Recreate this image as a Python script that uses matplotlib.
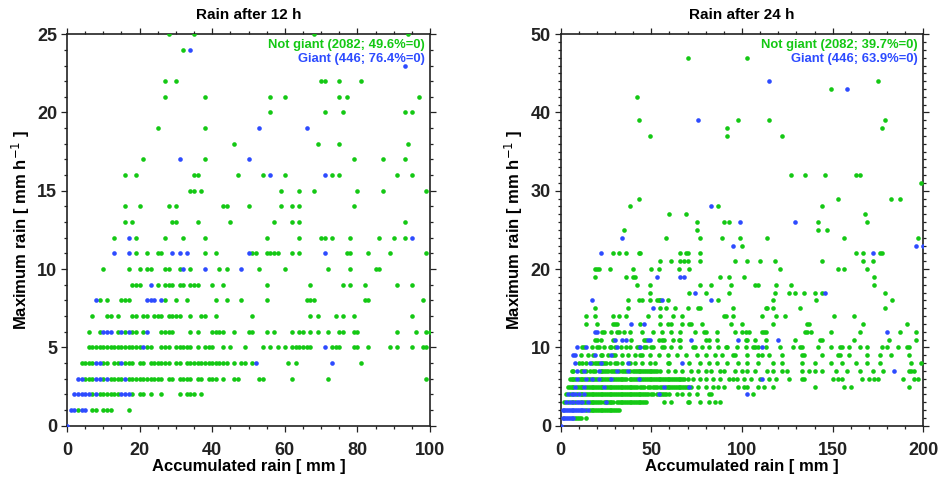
import matplotlib
matplotlib.use("Agg")
import matplotlib.pyplot as plt
from matplotlib.ticker import MultipleLocator

plt.rcParams['font.family'] = ['Liberation Sans', 'DejaVu Sans']
plt.rcParams['mathtext.fontset'] = 'custom'
plt.rcParams['mathtext.rm'] = 'Liberation Sans:bold'
plt.rcParams['mathtext.bf'] = 'Liberation Sans:bold'
plt.rcParams['mathtext.default'] = 'bf'

GREEN = '#14c814'
BLUE = '#2d4bff'

titles = ["Rain after 12 h", "Rain after 24 h"]
xlabel = "Accumulated rain [ mm ]"
ylabel = "Maximum rain [ mm h$^{\\mathsf{-1}}$ ]"
legend_12 = ["Not giant (2082; 49.6%=0)", "Giant (446; 76.4%=0)"]
legend_24 = ["Not giant (2082; 39.7%=0)", "Giant (446; 63.9%=0)"]

# ---------------- 12 h panel : (accumulated rain, max rain) ----------------
pts12_not = [
    (28, 25), (35, 25), (68, 25), (94, 25),
    (32, 24),
    (27, 22), (30, 22), (70, 22), (71, 22), (75, 22), (81, 22),
    (27, 21), (38, 21), (56, 21), (60, 21), (75, 21), (77, 21), (97, 21),
    (56, 20), (71, 20), (76, 20), (93, 20), (95, 20),
    (25, 19), (38, 19),
    (46, 18), (69, 18), (75, 18), (94, 18),
    (21, 17), (38, 17), (79, 17), (87, 17), (93, 17),
    (16, 16), (19, 16), (35, 16), (36, 16), (47, 16), (54, 16), (60, 16), (73, 16), (75, 16), (91, 16), (95, 16),
    (34, 15), (35, 15), (37, 15), (59, 15), (64, 15), (68, 15), (80, 15), (87, 15), (99, 15),
    (16, 14), (20, 14), (28, 14), (30, 14), (43, 14), (44, 14), (50, 14), (59, 14), (62, 14), (64, 14), (79, 14),
    (16, 13), (18, 13), (29, 13), (30, 13), (36, 13), (45, 13), (57, 13), (62, 13), (64, 13), (93, 13),
    (13, 12), (19, 12), (27, 12), (32, 12), (38, 12), (55, 12), (64, 12), (70, 12), (71, 12), (73, 12), (78, 12), (86, 12), (90, 12), (93, 12),
    (19, 11), (22, 11), (25, 11), (26, 11), (38, 11), (41, 11), (51, 11), (52, 11), (55, 11), (56, 11), (57, 11), (58, 11),
    (62, 11), (64, 11), (77, 11), (78, 11), (83, 11), (89, 11), (99, 11),
    (10, 10), (17, 10), (20, 10), (22, 10), (23, 10), (27, 10), (28, 10), (31, 10), (34, 10), (42, 10), (44, 10), (53, 10),
    (60, 10), (72, 10), (78, 10), (85, 10), (86, 10),
    (18, 9), (19, 9), (20, 9), (25, 9), (27, 9), (28, 9), (29, 9), (31, 9), (32, 9), (34, 9), (35, 9), (36, 9), (40, 9),
    (43, 9), (55, 9), (67, 9), (76, 9), (78, 9), (82, 9), (91, 9), (95, 9),
    (9, 8), (11, 8), (15, 8), (16, 8), (17, 8), (27, 8), (30, 8), (33, 8), (41, 8), (44, 8), (48, 8), (55, 8), (66, 8),
    (67, 8), (68, 8), (82, 8), (83, 8), (98, 8),
    (7, 7), (11, 7), (12, 7), (14, 7), (18, 7), (19, 7), (21, 7), (22, 7), (24, 7), (25, 7), (26, 7), (28, 7), (29, 7),
    (30, 7), (31, 7), (34, 7), (37, 7), (38, 7), (41, 7), (51, 7), (67, 7), (69, 7), (74, 7), (76, 7), (79, 7), (95, 7),
    (6, 6), (9, 6), (14, 6), (16, 6), (18, 6), (19, 6), (21, 6), (26, 6), (27, 6), (28, 6), (29, 6), (34, 6), (36, 6),
    (40, 6), (41, 6), (42, 6), (43, 6), (46, 6), (50, 6), (51, 6), (55, 6), (57, 6), (62, 6), (64, 6), (65, 6), (67, 6),
    (69, 6), (72, 6), (75, 6), (76, 6), (79, 6), (80, 6), (91, 6), (96, 6), (99, 6), (100, 6),
    (6, 5), (7, 5), (8, 5), (9, 5), (10, 5), (11, 5), (12, 5), (13, 5), (14, 5), (15, 5), (16, 5), (17, 5), (18, 5),
    (19, 5), (20, 5), (22, 5), (23, 5), (26, 5), (27, 5), (28, 5), (30, 5), (31, 5), (32, 5), (33, 5), (34, 5), (36, 5),
    (38, 5), (39, 5), (40, 5), (43, 5), (45, 5), (49, 5), (54, 5), (56, 5), (58, 5), (60, 5), (62, 5), (63, 5), (64, 5),
    (65, 5), (66, 5), (67, 5), (73, 5), (74, 5), (75, 5), (79, 5), (80, 5), (83, 5), (89, 5), (91, 5), (95, 5), (98, 5), (99, 5),
    (4, 4), (5, 4), (6, 4), (7, 4), (10, 4), (11, 4), (13, 4), (14, 4), (16, 4), (17, 4), (18, 4), (20, 4), (21, 4),
    (23, 4), (24, 4), (25, 4), (26, 4), (27, 4), (28, 4), (30, 4), (31, 4), (33, 4), (34, 4), (35, 4), (36, 4), (37, 4),
    (38, 4), (39, 4), (40, 4), (41, 4), (42, 4), (43, 4), (44, 4), (46, 4), (48, 4), (49, 4), (51, 4), (61, 4), (63, 4), (81, 4),
    (5, 3), (6, 3), (7, 3), (10, 3), (12, 3), (13, 3), (14, 3), (15, 3), (17, 3), (18, 3), (19, 3), (20, 3), (21, 3),
    (22, 3), (23, 3), (24, 3), (25, 3), (26, 3), (28, 3), (29, 3), (31, 3), (32, 3), (33, 3), (34, 3), (36, 3), (37, 3),
    (39, 3), (40, 3), (41, 3), (43, 3), (46, 3), (47, 3), (53, 3), (54, 3), (62, 3), (72, 3), (99, 3),
    (7, 2), (9, 2), (10, 2), (11, 2), (12, 2), (13, 2), (14, 2), (18, 2), (20, 2), (21, 2), (23, 2), (26, 2), (31, 2),
    (33, 2), (34, 2), (35, 2), (37, 2),
    (3, 1), (7, 1), (8, 1), (10, 1), (11, 1), (12, 1), (17, 1),
]
pts12_giant = [
    (34, 24), (93, 23), (53, 19), (66, 19), (31, 17), (50, 17), (56, 16), (71, 16),
    (17, 12), (95, 12),
    (13, 11), (17, 11), (29, 11), (31, 11), (33, 11), (50, 11), (71, 11),
    (32, 10), (38, 10), (48, 10), (23, 9),
    (8, 8), (22, 8), (23, 8), (24, 8), (26, 8),
    (10, 6), (11, 6), (12, 6), (15, 6), (17, 6), (22, 6),
    (21, 5), (71, 5),
    (8, 4), (9, 4), (15, 4), (52, 4), (73, 4),
    (3, 3), (4, 3), (8, 3), (9, 3), (11, 3), (16, 3),
    (2, 2), (3, 2), (4, 2), (5, 2), (6, 2), (8, 2), (15, 2), (16, 2), (17, 2),
    (1, 1), (2, 1), (4, 1), (5, 1),
    (0, 0),
]

# ---------------- 24 h panel ----------------
pts24_not = [
    (70, 47), (103, 47), (175, 44), (149, 43), (42, 42),
    (43, 39), (98, 39), (115, 39), (179, 39), (92, 38), (177, 38), (49, 37), (92, 37), (122, 37),
    (127, 32), (135, 32), (146, 32), (163, 32), (165, 32), (199, 31),
    (43, 29), (153, 29), (182, 29), (187, 29), (38, 28), (87, 28), (144, 28), (60, 27), (69, 27), (168, 27),
    (75, 26), (90, 26), (93, 26), (142, 26), (169, 26), (35, 25), (75, 25), (142, 25), (147, 25),
    (58, 24), (77, 24), (89, 24), (99, 24), (114, 24), (156, 24), (197, 24), (100, 23),
    (29, 22), (32, 22), (36, 22), (43, 22), (44, 22), (66, 22), (69, 22), (70, 22), (77, 22), (163, 22), (167, 22), (176, 22), (177, 22),
    (55, 21), (61, 21), (66, 21), (68, 21), (70, 21), (77, 21), (96, 21), (103, 21), (110, 21), (118, 21), (144, 21), (167, 21), (172, 21),
    (19, 20), (20, 20), (21, 20), (27, 20), (40, 20), (50, 20), (54, 20), (65, 20), (71, 20), (121, 20), (153, 20), (156, 20), (169, 20),
    (19, 19), (36, 19), (40, 19), (41, 19), (88, 19), (93, 19), (101, 19), (173, 19),
    (42, 18), (49, 18), (77, 18), (83, 18), (94, 18), (107, 18), (109, 18), (119, 18), (127, 18), (173, 18),
    (49, 17), (71, 17), (80, 17), (93, 17), (118, 17), (126, 17), (129, 17), (134, 17), (140, 17), (144, 17), (179, 17),
    (37, 16), (43, 16), (45, 16), (49, 16), (53, 16), (54, 16), (55, 16), (59, 16), (87, 16), (117, 16), (141, 16), (183, 16),
    (19, 15), (37, 15), (55, 15), (58, 15), (63, 15), (70, 15), (76, 15), (77, 15), (95, 15), (113, 15), (114, 15), (117, 15), (132, 15), (179, 15),
    (14, 14), (19, 14), (29, 14), (32, 14), (36, 14), (48, 14), (55, 14), (62, 14), (67, 14), (90, 14), (91, 14), (95, 14), (111, 14),
    (119, 14), (124, 14), (151, 14), (162, 14),
    (14, 13), (20, 13), (29, 13), (30, 13), (31, 13), (44, 13), (55, 13), (59, 13), (61, 13), (67, 13), (71, 13), (72, 13), (78, 13),
    (94, 13), (100, 13), (117, 13), (136, 13), (137, 13), (167, 13), (191, 13),
    (23, 12), (24, 12), (28, 12), (31, 12), (32, 12), (35, 12), (38, 12), (45, 12), (51, 12), (56, 12), (61, 12), (66, 12), (74, 12),
    (79, 12), (80, 12), (86, 12), (96, 12), (100, 12), (102, 12), (104, 12), (111, 12), (112, 12), (113, 12), (135, 12), (136, 12),
    (138, 12), (149, 12), (165, 12), (187, 12), (196, 12),
    (19, 11), (20, 11), (22, 11), (29, 11), (39, 11), (46, 11), (47, 11), (54, 11), (56, 11), (57, 11), (62, 11), (65, 11), (66, 11),
    (80, 11), (82, 11), (86, 11), (102, 11), (103, 11), (107, 11), (113, 11), (129, 11), (143, 11), (144, 11), (162, 11), (181, 11), (196, 11),
    (12, 10), (13, 10), (17, 10), (20, 10), (21, 10), (24, 10), (27, 10), (28, 10), (30, 10), (33, 10), (36, 10), (38, 10), (42, 10),
    (43, 10), (46, 10), (47, 10), (50, 10), (51, 10), (56, 10), (57, 10), (61, 10), (66, 10), (73, 10), (74, 10), (78, 10), (82, 10),
    (87, 10), (91, 10), (92, 10), (97, 10), (102, 10), (106, 10), (107, 10), (109, 10), (113, 10), (121, 10), (128, 10), (132, 10),
    (133, 10), (142, 10), (149, 10), (154, 10), (155, 10), (159, 10), (165, 10), (169, 10), (177, 10), (180, 10), (186, 10), (191, 10), (192, 10),
    (11, 9), (15, 9), (18, 9), (22, 9), (23, 9), (26, 9), (29, 9), (30, 9), (34, 9), (37, 9), (41, 9), (44, 9), (45, 9), (49, 9),
    (54, 9), (59, 9), (64, 9), (69, 9), (75, 9), (80, 9), (85, 9), (89, 9), (95, 9), (96, 9), (103, 9), (109, 9), (111, 9), (115, 9),
    (122, 9), (133, 9), (134, 9), (144, 9), (153, 9), (154, 9), (159, 9), (169, 9), (176, 9), (182, 9), (192, 9),
    (10, 8), (12, 8), (14, 8), (17, 8), (19, 8), (20, 8), (21, 8), (23, 8), (24, 8), (25, 8), (27, 8), (30, 8), (31, 8), (34, 8),
    (38, 8), (41, 8), (45, 8), (49, 8), (52, 8), (59, 8), (60, 8), (71, 8), (77, 8), (82, 8), (86, 8), (92, 8), (98, 8), (103, 8),
    (109, 8), (117, 8), (122, 8), (133, 8), (140, 8), (149, 8), (155, 8), (163, 8), (169, 8), (176, 8), (193, 8), (199, 8),
    (6, 7), (7, 7), (11, 7), (12, 7), (14, 7), (16, 7), (18, 7), (19, 7), (22, 7), (23, 7), (24, 7), (25, 7), (26, 7), (28, 7),
    (29, 7), (30, 7), (32, 7), (34, 7), (35, 7), (36, 7), (38, 7), (40, 7), (41, 7), (42, 7), (43, 7), (44, 7), (45, 7), (46, 7),
    (47, 7), (48, 7), (49, 7), (50, 7), (51, 7), (52, 7), (53, 7), (55, 7), (59, 7), (63, 7), (67, 7), (72, 7), (76, 7), (80, 7),
    (83, 7), (88, 7), (90, 7), (96, 7), (100, 7), (103, 7), (107, 7), (114, 7), (117, 7), (122, 7), (125, 7), (133, 7), (137, 7),
    (140, 7), (144, 7), (152, 7), (158, 7), (165, 7), (172, 7), (178, 7), (192, 7), (193, 7), (195, 7),
    (5, 6), (6, 6), (7, 6), (8, 6), (10, 6), (11, 6), (12, 6), (13, 6), (15, 6), (16, 6), (18, 6), (19, 6), (20, 6), (22, 6),
    (23, 6), (24, 6), (25, 6), (26, 6), (27, 6), (29, 6), (30, 6), (31, 6), (32, 6), (33, 6), (34, 6), (35, 6), (36, 6), (38, 6),
    (39, 6), (40, 6), (41, 6), (42, 6), (44, 6), (45, 6), (46, 6), (47, 6), (48, 6), (49, 6), (50, 6), (51, 6), (52, 6), (53, 6),
    (54, 6), (55, 6), (56, 6), (57, 6), (58, 6), (59, 6), (60, 6), (61, 6), (62, 6), (63, 6), (64, 6), (65, 6), (66, 6), (67, 6),
    (68, 6), (70, 6), (73, 6), (77, 6), (80, 6), (84, 6), (88, 6), (93, 6), (95, 6), (97, 6), (101, 6), (105, 6), (110, 6), (115, 6),
    (119, 6), (126, 6), (133, 6), (134, 6), (150, 6), (153, 6), (155, 6), (166, 6), (170, 6), (173, 6), (175, 6), (189, 6), (195, 6), (197, 6),
    (4, 5), (5, 5), (6, 5), (7, 5), (9, 5), (10, 5), (11, 5), (12, 5), (14, 5), (15, 5), (16, 5), (17, 5), (18, 5), (19, 5),
    (20, 5), (21, 5), (22, 5), (23, 5), (25, 5), (26, 5), (27, 5), (28, 5), (29, 5), (30, 5), (31, 5), (32, 5), (33, 5), (34, 5),
    (35, 5), (36, 5), (37, 5), (38, 5), (39, 5), (40, 5), (41, 5), (42, 5), (44, 5), (45, 5), (46, 5), (48, 5), (49, 5), (51, 5),
    (52, 5), (53, 5), (55, 5), (56, 5), (58, 5), (59, 5), (60, 5), (61, 5), (62, 5), (63, 5), (64, 5), (65, 5), (66, 5), (67, 5),
    (68, 5), (69, 5), (70, 5), (72, 5), (76, 5), (80, 5), (84, 5), (87, 5), (90, 5), (98, 5), (101, 5), (103, 5), (109, 5), (112, 5),
    (117, 5), (140, 5), (156, 5), (160, 5), (192, 5),
    (3, 4), (5, 4), (7, 4), (9, 4), (11, 4), (12, 4), (14, 4), (15, 4), (16, 4), (17, 4), (18, 4), (19, 4), (20, 4), (21, 4),
    (22, 4), (23, 4), (24, 4), (25, 4), (26, 4), (27, 4), (28, 4), (29, 4), (30, 4), (31, 4), (32, 4), (33, 4), (34, 4), (35, 4),
    (36, 4), (37, 4), (38, 4), (39, 4), (40, 4), (41, 4), (42, 4), (43, 4), (44, 4), (45, 4), (46, 4), (47, 4), (48, 4), (50, 4),
    (51, 4), (53, 4), (55, 4), (56, 4), (57, 4), (58, 4), (60, 4), (64, 4), (67, 4), (71, 4), (75, 4), (82, 4), (83, 4), (106, 4),
    (2, 3), (4, 3), (6, 3), (8, 3), (11, 3), (13, 3), (14, 3), (16, 3), (17, 3), (18, 3), (19, 3), (20, 3), (21, 3), (22, 3),
    (24, 3), (25, 3), (26, 3), (27, 3), (28, 3), (29, 3), (31, 3), (32, 3), (33, 3), (34, 3), (35, 3), (36, 3), (37, 3), (38, 3),
    (39, 3), (40, 3), (41, 3), (42, 3), (43, 3), (44, 3), (45, 3), (46, 3), (47, 3), (57, 3), (61, 3), (70, 3), (71, 3), (77, 3),
    (82, 3), (85, 3), (88, 3),
    (14, 2), (16, 2), (17, 2), (18, 2), (19, 2), (20, 2), (21, 2), (22, 2), (23, 2), (24, 2), (25, 2), (26, 2), (27, 2), (28, 2),
    (29, 2), (30, 2), (31, 2), (32, 2),
    (8, 1), (9, 1), (10, 1), (11, 1), (14, 1),
]
pts24_giant = [
    (115, 44), (158, 43), (76, 39), (83, 28), (99, 26), (129, 26), (34, 24),
    (95, 23), (196, 23), (200, 23), (22, 22), (172, 22), (53, 19), (66, 19), (68, 19),
    (74, 17), (146, 17), (17, 16), (56, 16), (83, 16), (51, 15), (39, 13), (46, 13),
    (19, 12), (20, 12), (180, 12),
    (30, 11), (34, 11), (36, 11), (48, 11), (49, 11), (72, 11), (98, 11), (120, 11),
    (9, 10), (14, 10), (31, 10), (44, 10), (111, 10),
    (7, 9), (8, 9), (19, 9), (28, 9),
    (8, 8), (16, 8), (22, 8), (37, 8), (67, 8),
    (9, 7), (13, 7), (21, 7), (31, 7), (37, 7), (184, 7),
    (9, 6), (14, 6), (17, 6), (21, 6), (28, 6), (43, 6), (111, 6),
    (8, 5), (13, 5), (24, 5), (57, 5), (71, 5),
    (4, 4), (6, 4), (8, 4), (10, 4), (13, 4), (54, 4), (103, 4),
    (3, 3), (5, 3), (7, 3), (9, 3), (10, 3), (12, 3), (15, 3), (25, 3),
    (1, 2), (2, 2), (3, 2), (4, 2), (5, 2), (6, 2), (7, 2), (8, 2), (9, 2), (10, 2), (11, 2), (12, 2), (13, 2), (15, 2),
    (1, 1), (2, 1), (3, 1), (4, 1), (5, 1), (6, 1), (7, 1),
    (0, 0),
]

fig = plt.figure(figsize=(9.4, 4.79), dpi=100)
ax1 = fig.add_axes([0.0713, 0.1113, 0.3862, 0.8173])
ax2 = fig.add_axes([0.5965, 0.1113, 0.3857, 0.8173])

panels = [
    (ax1, pts12_not, pts12_giant, legend_12, (0, 100), (0, 25), 20, 5, 5, 1),
    (ax2, pts24_not, pts24_giant, legend_24, (0, 200), (0, 50), 50, 10, 10, 1),
]

for i, (ax, pn, pg, leg, xl, yl, xmaj, xmin, ymaj, ymin) in enumerate(panels):
    xs, ys = zip(*pn)
    ax.scatter(xs, ys, s=11, c=GREEN, linewidths=0, zorder=3)
    xs, ys = zip(*pg)
    ax.scatter(xs, ys, s=11, c=BLUE, linewidths=0, zorder=4)
    ax.set_xlim(*xl)
    ax.set_ylim(*yl)
    ax.xaxis.set_major_locator(MultipleLocator(xmaj))
    ax.xaxis.set_minor_locator(MultipleLocator(xmin))
    ax.yaxis.set_major_locator(MultipleLocator(ymaj))
    ax.yaxis.set_minor_locator(MultipleLocator(ymin))
    ax.tick_params(which='both', direction='out', top=True, right=True, width=0.9, colors='#222222')
    ax.tick_params(which='major', length=4)
    ax.tick_params(which='minor', length=2.2)
    ax.tick_params(axis='x', which='major', pad=8, labelsize=13)
    ax.tick_params(axis='y', which='major', pad=3, labelsize=13)
    for lab in ax.get_xticklabels() + ax.get_yticklabels():
        lab.set_fontweight('bold')
    for sp in ax.spines.values():
        sp.set_linewidth(1.2)
        sp.set_color('#222222')
    ax.set_title(titles[i], fontsize=11, fontweight='bold', pad=11)
    ax.set_xlabel(xlabel, fontsize=12, fontweight='bold', labelpad=0)
    ax.set_ylabel(ylabel, fontsize=12, fontweight='bold', labelpad=4)
    ax.text(0.985, 0.988, leg[0], transform=ax.transAxes, ha='right', va='top',
            color=GREEN, fontsize=9.4, fontweight='bold')
    ax.text(0.985, 0.952, leg[1], transform=ax.transAxes, ha='right', va='top',
            color=BLUE, fontsize=9.4, fontweight='bold')

fig.savefig("out.png", dpi=100)
